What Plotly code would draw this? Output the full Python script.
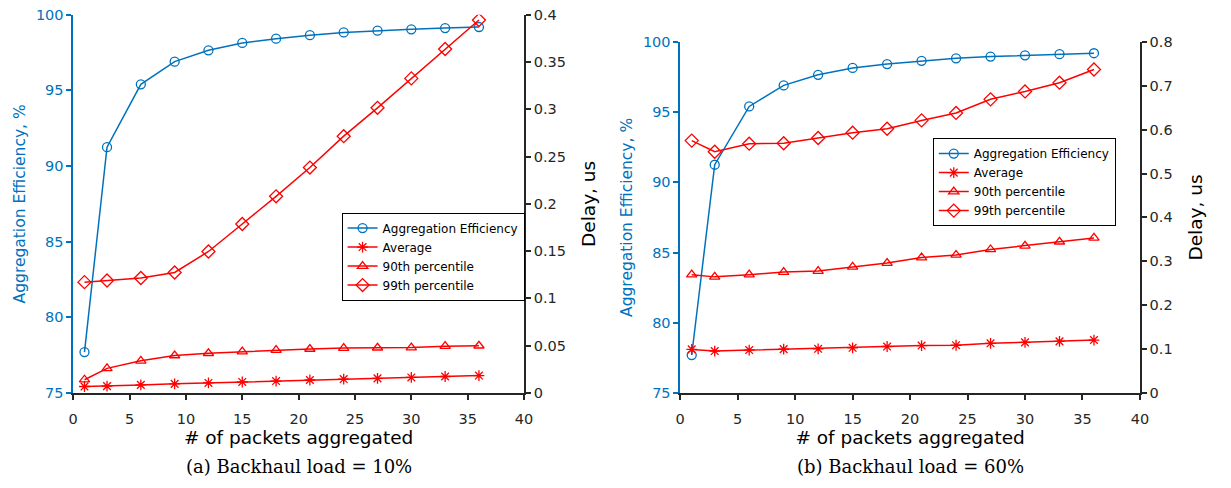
import plotly.graph_objects as go

# ---------------- data ----------------
packets = [1, 3, 6, 9, 12, 15, 18, 21, 24, 27, 30, 33, 36]

efficiency = [77.7, 91.25, 95.4, 96.9, 97.65, 98.14, 98.42, 98.65, 98.83, 98.95, 99.04, 99.12, 99.19]

# (a) Backhaul load = 10%
avg_10 = [0.0068, 0.0072, 0.0085, 0.0096, 0.0106, 0.0116, 0.0126, 0.0137, 0.0147, 0.0154, 0.0164, 0.0174, 0.0184]
p90_10 = [0.014, 0.026, 0.034, 0.0396, 0.042, 0.0437, 0.0454, 0.0465, 0.0475, 0.0478, 0.048, 0.0495, 0.0499]
p99_10 = [0.1172, 0.1189, 0.1216, 0.1274, 0.1496, 0.1787, 0.2080, 0.2384, 0.2716, 0.3016, 0.3327, 0.3638, 0.3945]

# (b) Backhaul load = 60%
avg_60 = [0.0992, 0.0955, 0.0977, 0.0999, 0.1006, 0.1028, 0.1058, 0.1080, 0.1087, 0.1131, 0.1153, 0.1175, 0.1205]
p90_60 = [0.2696, 0.2645, 0.2696, 0.2755, 0.2777, 0.2872, 0.2960, 0.3085, 0.3144, 0.3270, 0.3350, 0.3445, 0.3533]
p99_60 = [0.575, 0.5495, 0.568, 0.569, 0.581, 0.593, 0.602, 0.621, 0.638, 0.669, 0.687, 0.707, 0.737]

series_names = ["Aggregation Efficiency", "Average", "90th percentile", "99th percentile"]
captions = ["(a) Backhaul load = 10%", "(b) Backhaul load = 60%"]
x_title = "# of packets aggregated"
y_left_title = "Aggregation Efficiency, %"
y_right_title = "Delay, us"

# ---------------- style ----------------
BLUE = "#0072BD"
RED = "#FF0000"
DARK = "#262626"
FONT = "DejaVu Sans"
W, H = 1231, 488

fig = go.Figure()


def add_panel(xa, ya_left, ya_right, legend_name, avg, p90, p99):
    fig.add_trace(go.Scatter(
        x=packets, y=efficiency, name=series_names[0], mode="lines+markers",
        xaxis=xa, yaxis=ya_left, legend=legend_name,
        line=dict(color=BLUE, width=1.5),
        marker=dict(symbol="circle-open", size=9, color=BLUE, line=dict(width=1.3, color=BLUE))))
    fig.add_trace(go.Scatter(
        x=packets, y=avg, name=series_names[1], mode="lines+markers",
        xaxis=xa, yaxis=ya_right, legend=legend_name,
        line=dict(color=RED, width=1.5),
        marker=dict(symbol="asterisk-open", size=9, color=RED, line=dict(width=1.3, color=RED))))
    fig.add_trace(go.Scatter(
        x=packets, y=p90, name=series_names[2], mode="lines+markers",
        xaxis=xa, yaxis=ya_right, legend=legend_name,
        line=dict(color=RED, width=1.5),
        marker=dict(symbol="triangle-up-open", size=9, color=RED, line=dict(width=1.3, color=RED))))
    fig.add_trace(go.Scatter(
        x=packets, y=p99, name=series_names[3], mode="lines+markers",
        xaxis=xa, yaxis=ya_right, legend=legend_name,
        line=dict(color=RED, width=1.5),
        marker=dict(symbol="diamond-open", size=10, color=RED, line=dict(width=1.3, color=RED))))


add_panel("x", "y", "y2", "legend", avg_10, p90_10, p99_10)
add_panel("x2", "y3", "y4", "legend2", avg_60, p90_60, p99_60)

xl = [69 / W, 525 / W]
xr = [683 / W, 1148 / W]
yl = [(H - 398) / H, (H - 7) / H]
yr = [(H - 398) / H, (H - 35) / H]

common_x = dict(range=[0, 40], dtick=5, tick0=0, showgrid=False, zeroline=False,
                showline=True, linecolor=DARK, linewidth=1.5, ticks="outside",
                ticklen=5, tickwidth=1.5, tickcolor=DARK, ticklabelstandoff=7,
                tickfont=dict(family=FONT, size=14.5, color=DARK),
                title=dict(text=x_title, font=dict(family=FONT, size=18.5, color="#000000"), standoff=4))
left_y = dict(range=[75, 100], dtick=5, showgrid=False, zeroline=False,
              showline=True, linecolor=BLUE, linewidth=1.5, ticks="outside",
              ticklen=5, tickwidth=1.5, tickcolor=BLUE,
              tickfont=dict(family=FONT, size=14.5, color=BLUE),
              title=dict(text=y_left_title, font=dict(family=FONT, size=15.5, color=BLUE), standoff=6))
right_common = dict(showgrid=False, zeroline=False, side="right",
                    showline=True, linecolor=DARK, linewidth=1.5, ticks="outside",
                    ticklen=5, tickwidth=1.5, tickcolor=DARK,
                    tickfont=dict(family=FONT, size=14.5, color=DARK),
                    title=dict(text=y_right_title, font=dict(family=FONT, size=18.5, color="#000000"), standoff=17))

legend_common = dict(xanchor="center", yanchor="middle",
                     bgcolor="white", bordercolor="#000000", borderwidth=1,
                     font=dict(family=FONT, size=12, color="#000000"),
                     itemwidth=30, tracegroupgap=0)

fig.update_layout(
    width=W, height=H,
    margin=dict(l=0, r=0, t=0, b=0),
    paper_bgcolor="white", plot_bgcolor="white",
    font=dict(family=FONT, color=DARK),
    xaxis=dict(domain=xl, anchor="y", **common_x),
    xaxis2=dict(domain=xr, anchor="y3", **common_x),
    yaxis=dict(domain=yl, anchor="x", **left_y),
    yaxis2=dict(domain=yl, anchor="x", overlaying="y", range=[0, 0.4], dtick=0.05, **right_common),
    yaxis3=dict(domain=yr, anchor="x2", **left_y),
    yaxis4=dict(domain=yr, anchor="x2", overlaying="y3", range=[0, 0.8], dtick=0.1, **right_common),
    legend=dict(x=433 / W, y=1 - 257 / H, **legend_common),
    legend2=dict(x=1031 / W, y=1 - 180 / H, **legend_common),
    showlegend=True,
)

for i, cx in enumerate([(xl[0] + xl[1]) / 2, (xr[0] + xr[1]) / 2]):
    fig.add_annotation(text=captions[i], x=cx, y=1 - 474 / H, xref="paper", yref="paper",
                       xanchor="center", yanchor="middle", showarrow=False,
                       font=dict(family="DejaVu Serif", size=18, color="#000000"))

fig.write_html("out.html")
